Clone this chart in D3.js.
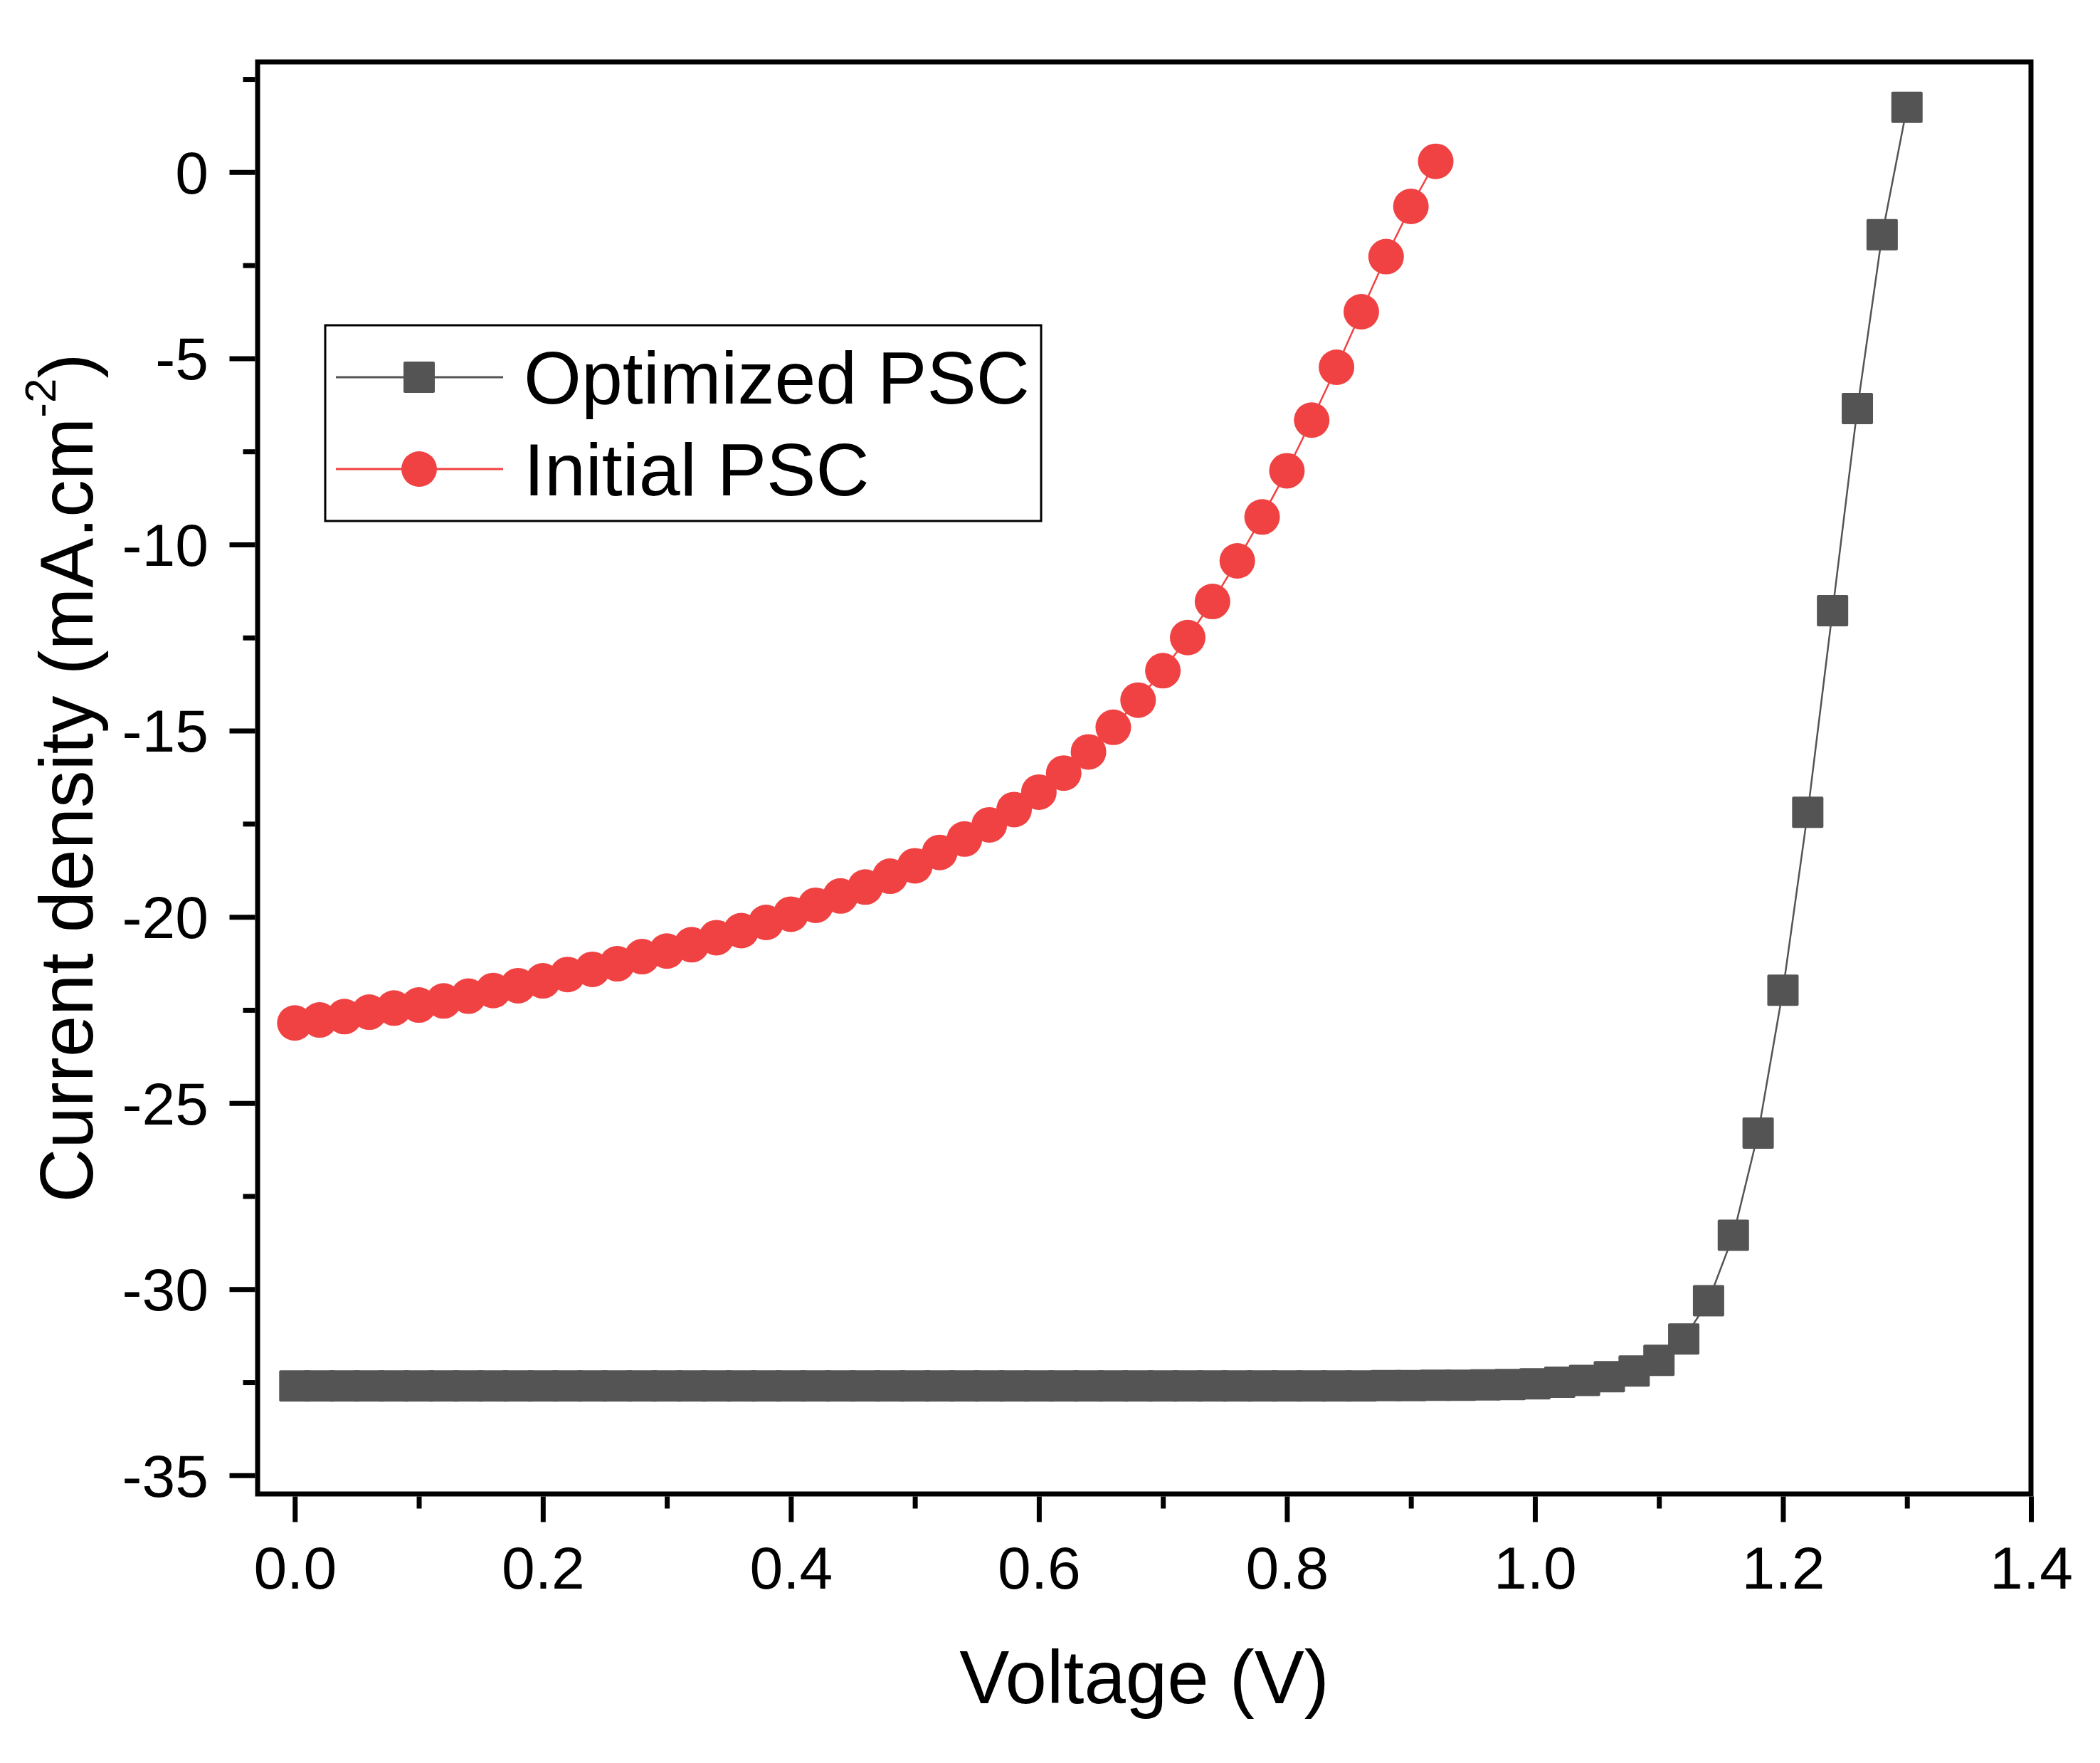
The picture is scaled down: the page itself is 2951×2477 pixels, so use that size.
<!DOCTYPE html>
<html>
<head>
<meta charset="utf-8">
<script src="https://cdn.jsdelivr.net/npm/d3@7"></script>
<style>
  body { margin: 0; background: #ffffff; }
  svg { display: block; font-family: 'Liberation Sans', Arial, sans-serif; }
  .tick-label { font-size: 84px; fill: #000000; }
  .axis-title { font-size: 105px; fill: #000000; }
  .legend-label { font-size: 104px; fill: #000000; }
</style>
</head>
<body>
<svg width="2951" height="2477"></svg>
<script>
// data
const seriesNames = ['Optimized PSC', 'Initial PSC']

const voltageOptimized = [
  0.00, 0.02, 0.04, 0.06, 0.08, 0.10, 0.12, 0.14, 0.16, 0.18,
  0.20, 0.22, 0.24, 0.26, 0.28, 0.30, 0.32, 0.34, 0.36, 0.38,
  0.40, 0.42, 0.44, 0.46, 0.48, 0.50, 0.52, 0.54, 0.56, 0.58,
  0.60, 0.62, 0.64, 0.66, 0.68, 0.70, 0.72, 0.74, 0.76, 0.78,
  0.80, 0.82, 0.84, 0.86, 0.88, 0.90, 0.92, 0.94, 0.96, 0.98,
  1.00, 1.02, 1.04, 1.06, 1.08, 1.10, 1.12, 1.14, 1.16, 1.18,
  1.20, 1.22, 1.24, 1.26, 1.28, 1.30
]
const currentOptimized = [
  -32.60, -32.60, -32.60, -32.60, -32.60, -32.60, -32.60, -32.60, -32.60, -32.60,
  -32.60, -32.60, -32.60, -32.60, -32.60, -32.60, -32.60, -32.60, -32.60, -32.60,
  -32.60, -32.60, -32.60, -32.60, -32.60, -32.60, -32.60, -32.60, -32.60, -32.60,
  -32.60, -32.60, -32.60, -32.60, -32.60, -32.60, -32.60, -32.60, -32.60, -32.60,
  -32.60, -32.60, -32.60, -32.60, -32.59, -32.59, -32.58, -32.58, -32.57, -32.56,
  -32.54, -32.50, -32.45, -32.35, -32.20, -31.91, -31.34, -30.31, -28.55, -25.81,
  -21.97, -17.19, -11.78, -6.35, -1.68, 1.74
]

const voltageInitial = [
  0.00, 0.02, 0.04, 0.06, 0.08, 0.10, 0.12, 0.14, 0.16, 0.18,
  0.20, 0.22, 0.24, 0.26, 0.28, 0.30, 0.32, 0.34, 0.36, 0.38,
  0.40, 0.42, 0.44, 0.46, 0.48, 0.50, 0.52, 0.54, 0.56, 0.58,
  0.60, 0.62, 0.64, 0.66, 0.68, 0.70, 0.72, 0.74, 0.76, 0.78,
  0.80, 0.82, 0.84, 0.86, 0.88, 0.90, 0.92
]
const currentInitial = [
  -22.85, -22.77, -22.68, -22.56, -22.45, -22.37, -22.26, -22.13, -21.98, -21.85,
  -21.72, -21.55, -21.41, -21.26, -21.07, -20.92, -20.75, -20.56, -20.37, -20.15,
  -19.93, -19.69, -19.44, -19.20, -18.91, -18.63, -18.27, -17.91, -17.53, -17.12,
  -16.65, -16.14, -15.57, -14.91, -14.18, -13.39, -12.50, -11.53, -10.44, -9.26,
  -8.02, -6.66, -5.24, -3.75, -2.27, -0.92, 0.29
]

// tick values
const xTicks = [0, 0.2, 0.4, 0.6, 0.8, 1.0, 1.2, 1.4]
const xMinorTicks = [0.1, 0.3, 0.5, 0.7, 0.9, 1.1, 1.3]
const yTicks = [-35, -30, -25, -20, -15, -10, -5, 0]
const yMinorTicks = [-32.5, -27.5, -22.5, -17.5, -12.5, -7.5, -2.5, 2.5]

// layout
const plot = { left: 362, right: 2854, top: 87, bottom: 2099 }
const axisWidth = 7
const majorLen = 36
const minorLen = 17
const darkGrey = '#545454'
const red = '#f04242'

// scales
const xScale = d3.scaleLinear()
  .domain([-0.03, 1.4])
  .range([plot.left, plot.right])

const yScale = d3.scaleLinear()
  .domain([-35.5, 2.96])
  .range([plot.bottom, plot.top])

const svg = d3.select('svg')

// build the two series from the arrays
const optimized = voltageOptimized.map((v, i) => ({ v: v, j: currentOptimized[i] }))
const initial = voltageInitial.map((v, i) => ({ v: v, j: currentInitial[i] }))

const lineGenerator = d3.line()
  .x(d => xScale(d.v))
  .y(d => yScale(d.j))

// --- axes (ticks outside, labels via d3.axis) ---
const xAxis = d3.axisBottom(xScale)
  .tickValues(xTicks)
  .tickSize(majorLen)
  .tickPadding(28)
  .tickFormat(d3.format('.1f'))

const xAxisG = svg.append('g')
  .attr('transform', `translate(0, ${plot.bottom})`)
  .call(xAxis)

const xMinor = d3.axisBottom(xScale)
  .tickValues(xMinorTicks)
  .tickSize(minorLen)
  .tickFormat('')

const xMinorG = svg.append('g')
  .attr('transform', `translate(0, ${plot.bottom})`)
  .call(xMinor)

const yAxis = d3.axisLeft(yScale)
  .tickValues(yTicks)
  .tickSize(majorLen)
  .tickPadding(40)
  .tickFormat(d => d3.format('d')(d).replace('\u2212', '-'))

const yAxisG = svg.append('g')
  .attr('transform', `translate(${plot.left}, 0)`)
  .call(yAxis)

const yMinor = d3.axisLeft(yScale)
  .tickValues(yMinorTicks)
  .tickSize(minorLen)
  .tickFormat('')

const yMinorG = svg.append('g')
  .attr('transform', `translate(${plot.left}, 0)`)
  .call(yMinor)

// style all axes the same way
;[xAxisG, xMinorG, yAxisG, yMinorG].forEach(g => {
  g.select('.domain').remove()
  g.selectAll('.tick line')
    .attr('stroke', '#000000')
    .attr('stroke-width', axisWidth)
  g.selectAll('.tick text')
    .attr('class', 'tick-label')
    .attr('font-family', null)
    .attr('font-size', null)
})
// tick lines start at the outer edge of the frame
xAxisG.selectAll('.tick line').attr('y1', axisWidth / 2).attr('y2', axisWidth / 2 + majorLen)
xMinorG.selectAll('.tick line').attr('y1', axisWidth / 2).attr('y2', axisWidth / 2 + minorLen)
yAxisG.selectAll('.tick line').attr('x1', -axisWidth / 2).attr('x2', -axisWidth / 2 - majorLen)
yMinorG.selectAll('.tick line').attr('x1', -axisWidth / 2).attr('x2', -axisWidth / 2 - minorLen)
yAxisG.selectAll('.tick text').attr('x', -69).attr('dy', '0.35em')
xAxisG.selectAll('.tick text').attr('y', 133).attr('dy', 0)

// --- data: optimized PSC (grey squares) ---
const sq = 44
svg.append('path')
  .datum(optimized)
  .attr('d', lineGenerator)
  .attr('fill', 'none')
  .attr('stroke', darkGrey)
  .attr('stroke-width', 2.5)

svg.append('g')
  .selectAll('rect')
  .data(optimized)
  .enter()
  .append('rect')
  .attr('x', d => xScale(d.v) - sq / 2)
  .attr('y', d => yScale(d.j) - sq / 2)
  .attr('width', sq)
  .attr('height', sq)
  .attr('rx', 2)
  .attr('fill', darkGrey)

// --- data: initial PSC (red circles) ---
svg.append('path')
  .datum(initial)
  .attr('d', lineGenerator)
  .attr('fill', 'none')
  .attr('stroke', red)
  .attr('stroke-width', 2.5)

svg.append('g')
  .selectAll('circle')
  .data(initial)
  .enter()
  .append('circle')
  .attr('cx', d => xScale(d.v))
  .attr('cy', d => yScale(d.j))
  .attr('r', 25)
  .attr('fill', red)

// --- frame ---
svg.append('rect')
  .attr('x', plot.left)
  .attr('y', plot.top)
  .attr('width', plot.right - plot.left)
  .attr('height', plot.bottom - plot.top)
  .attr('fill', 'none')
  .attr('stroke', '#000000')
  .attr('stroke-width', axisWidth)

// --- axis titles ---
svg.append('text')
  .attr('class', 'axis-title')
  .attr('x', (plot.left + plot.right) / 2)
  .attr('y', 2393)
  .attr('text-anchor', 'middle')
  .text('Voltage (V)')

const yTitle = svg.append('text')
  .attr('class', 'axis-title')
  .attr('text-anchor', 'middle')
  .attr('transform', `translate(130, ${(plot.top + plot.bottom) / 2}) rotate(-90)`)

yTitle.append('tspan').text('Current density (mA.cm')
yTitle.append('tspan').attr('dy', -52).style('font-size', '62px').text('-2')
yTitle.append('tspan').attr('dy', 52).text(')')

// --- legend ---
const legend = svg.append('g')

legend.append('rect')
  .attr('x', 457)
  .attr('y', 457)
  .attr('width', 1006)
  .attr('height', 275)
  .attr('fill', '#ffffff')
  .attr('stroke', '#000000')
  .attr('stroke-width', 3)

const legendRows = legend.selectAll('g.row')
  .data(seriesNames)
  .enter()
  .append('g')
  .attr('class', 'row')
  .attr('transform', (d, i) => `translate(0, ${530 + i * 129})`)

legendRows.append('line')
  .attr('x1', 472)
  .attr('x2', 707)
  .attr('stroke', (d, i) => i === 0 ? darkGrey : red)
  .attr('stroke-width', 3)

legendRows.filter((d, i) => i === 0)
  .append('rect')
  .attr('x', 589 - sq / 2)
  .attr('y', -sq / 2)
  .attr('width', sq)
  .attr('height', sq)
  .attr('rx', 2)
  .attr('fill', darkGrey)

legendRows.filter((d, i) => i === 1)
  .append('circle')
  .attr('cx', 589)
  .attr('cy', 0)
  .attr('r', 25)
  .attr('fill', red)

legendRows.append('text')
  .attr('class', 'legend-label')
  .attr('x', 736)
  .attr('y', 37)
  .text(d => d)
</script>
</body>
</html>
